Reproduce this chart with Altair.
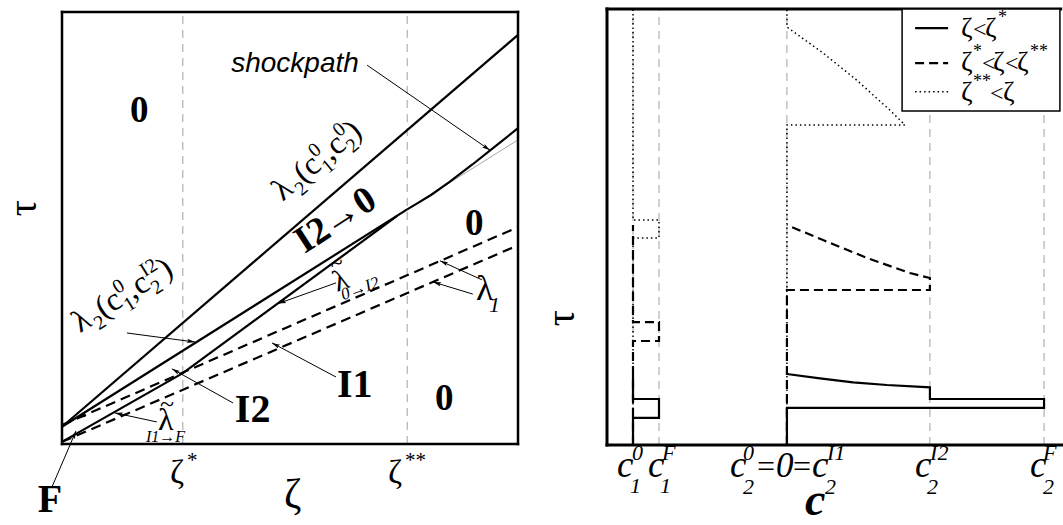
import math
import altair as alt
import pandas as pd

SERIF = "Liberation Serif"
SANS = "Liberation Sans"

# ---------------- left panel: characteristics in the (zeta, tau) plane ----------------
ZETA_STAR = 0.265
ZETA_STAR2 = 0.757

LAM2_00_ZETA = [0.0, 1.0]
LAM2_00_TAU = [0.040, 0.947]

LAM2_0I2_ZETA = [0.0, ZETA_STAR2]
LAM2_0I2_TAU = [0.040, 0.543]
LAM2_0I2_EXT_ZETA = [ZETA_STAR2, 1.0]
LAM2_0I2_EXT_TAU = [0.543, 0.704]

SHOCK_ZETA = [0.757, 0.78, 0.81, 0.85, 0.90, 0.95, 1.0]
SHOCK_TAU = [0.543, 0.5575, 0.577, 0.607, 0.647, 0.689, 0.731]

LAMT_ZETA = [0.0, ZETA_STAR, 0.735]
LAMT_TAU = [0.005, 0.164, 0.528]

LAM1_UP_ZETA = [0.0, 1.0]
LAM1_UP_TAU = [0.044, 0.502]
LAM1_LO_ZETA = [0.0, 1.0]
LAM1_LO_TAU = [0.005, 0.460]

# ---------------- right panel: concentration profiles c(tau) ----------------
C1_0, C1_F = 0.0, 1.0
C2_0, C2_I2, C2_F = 5.92, 11.42, 15.81
C_TICKS = [C1_0, C1_F, C2_0, C2_I2, C2_F]

SOLID_C1_C = [C1_0, C1_0, C1_F, C1_F, C1_0, C1_0]
SOLID_C1_T = [0.0, 0.062, 0.062, 0.1055, 0.1055, 0.161]
SOLID_C2_C = [C2_0, C2_0, C2_F, C2_F, C2_I2, C2_I2, 9.77, 8.46, 7.19, C2_0]
SOLID_C2_T = [0.0, 0.085, 0.085, 0.1055, 0.1055, 0.1323, 0.1376, 0.1438, 0.153, 0.1628]

DASHED_C1_C = [C1_0, C1_0, C1_F, C1_F, C1_0, C1_0]
DASHED_C1_T = [0.0, 0.2385, 0.2385, 0.282, 0.282, 0.5046]
DASHED_C2_C = [C2_0, C2_0, C2_I2, C2_I2, 10.65, 9.0, 7.31, C2_0]
DASHED_C2_T = [0.0, 0.3555, 0.3555, 0.383, 0.3945, 0.429, 0.470, 0.5046]

DOTTED_C1_C = [C1_0, C1_0, C1_F, C1_F, C1_0, C1_0]
DOTTED_C1_T = [0.0, 0.475, 0.475, 0.516, 0.516, 1.0]
DOTTED_C2_C = [C2_0, C2_0, 10.46, 9.88, 8.6, 7.31, C2_0, C2_0]
DOTTED_C2_T = [0.0, 0.734, 0.734, 0.768, 0.837, 0.899, 0.9587, 1.0]

# ---------------- scales (one canvas, two coordinate systems) ----------------
SCALES = {
    "L": (alt.Scale(domain=[0, 1], range=[62, 518], nice=False, zero=False),
          alt.Scale(domain=[0, 1], range=[444, 12], nice=False, zero=False)),
    "R": (alt.Scale(domain=[-1, 16.5], range=[607, 1062], nice=False, zero=False),
          alt.Scale(domain=[0, 1], range=[445, 9], nice=False, zero=False)),
}
PPU = {"L": (456.0, 432.0), "R": (26.0, 436.0)}  # pixels per data unit


def X(panel, f="x"):
    return alt.X(f"{f}:Q", scale=SCALES[panel][0], axis=None)


def Y(panel, f="y"):
    return alt.Y(f"{f}:Q", scale=SCALES[panel][1], axis=None)


def path(panel, xs, ys, **mark):
    df = pd.DataFrame({"x": xs, "y": ys, "i": list(range(len(xs)))})
    return alt.Chart(df).mark_line(**mark).encode(
        x=X(panel), y=Y(panel), order=alt.Order("i:Q"))


def segs(panel, x1, y1, x2, y2, **mark):
    df = pd.DataFrame({"x": x1, "y": y1, "x2": x2, "y2": y2})
    return alt.Chart(df).mark_rule(**mark).encode(
        x=X(panel), y=Y(panel), x2="x2:Q", y2="y2:Q")


HEAD = "M0,0L-0.45,1.7L0,1.35L0.45,1.7Z"


def arrows(panel, items):
    sx, sy = PPU[panel]
    rows = []
    for (xa, ya), (xb, yb) in items:
        dx = (xb - xa) * sx
        dy = -(yb - ya) * sy
        ang = math.degrees(math.atan2(dx, -dy)) % 360
        rows.append({"x": xa, "y": ya, "x2": xb, "y2": yb, "ang": ang})
    df = pd.DataFrame(rows)
    shaft = alt.Chart(df).mark_rule(color="black", strokeWidth=1).encode(
        x=X(panel), y=Y(panel), x2="x2:Q", y2="y2:Q")
    head = alt.Chart(df).mark_point(shape=HEAD, filled=True, color="black",
                                    opacity=1, size=90, strokeWidth=0).encode(
        x=X(panel, "x2"), y=Y(panel, "y2"), angle=alt.Angle("ang:Q", scale=None))
    return [shaft, head]


# ---------------- rich text (sub/superscripts) ----------------
EM = {"λ": 0.55, "c": 0.444, "(": 0.333, ")": 0.333, ",": 0.25, "I": 0.333,
      "F": 0.611, "→": 1.0, "=": 0.564, "<": 0.564, "ζ": 0.45, "*": 0.5, "~": 0.54}
ROWS = []


def P(t, s, rise=0.0, du=None, adv=True, it=False, b=False, fam=SERIF):
    return dict(t=t, s=s, rise=rise, du=du, adv=adv, it=it, b=b, fam=fam)


def width(p):
    return sum(EM.get(ch, 0.5) for ch in p["t"]) * p["s"]


def place(panel, x0, y0, pieces, angle=0.0, center=False, lift=0.0):
    sx, sy = PPU[panel]
    th = math.radians(angle)
    cur, starts = 0.0, []
    for p in pieces:
        u = cur if p["du"] is None else p["du"]
        starts.append(u)
        if p["adv"]:
            cur = u + width(p)
    shift = -cur / 2 if center else 0.0
    for p, u in zip(pieces, starts):
        u += shift
        v = lift - p["rise"]
        dx = u * math.cos(th) - v * math.sin(th)
        dy = u * math.sin(th) + v * math.cos(th)
        ROWS.append(dict(panel=panel, x=x0 + dx / sx, y=y0 - dy / sy, label=p["t"],
                         fs=p["s"], it=p["it"], b=p["b"], fam=p["fam"], angle=angle,
                         align="left", baseline="alphabetic"))


def plain(panel, x0, y0, t, s, angle=0.0, it=False, b=False, fam=SERIF):
    ROWS.append(dict(panel=panel, x=x0, y=y0, label=t, fs=s, it=it, b=b, fam=fam,
                     angle=angle, align="center", baseline="middle"))


def text_layers():
    groups = {}
    for r in ROWS:
        key = (r["panel"], r["fam"], r["it"], r["b"], r["angle"], r["align"], r["baseline"])
        groups.setdefault(key, []).append(r)
    out = []
    for (panel, fam, it, b, ang, align, base), rs in groups.items():
        df = pd.DataFrame({"x": [r["x"] for r in rs], "y": [r["y"] for r in rs],
                           "label": [r["label"] for r in rs], "fs": [r["fs"] for r in rs]})
        out.append(alt.Chart(df).mark_text(
            font=fam, fontStyle="italic" if it else "normal",
            fontWeight="bold" if b else "normal", angle=ang, align=align,
            baseline=base, color="black").encode(
            x=X(panel), y=Y(panel), text="label:N", size=alt.Size("fs:Q", scale=None)))
    return out


def lam2_label(sup2):
    return [P("λ", 32), P("2", 20, rise=-8), P("(", 32), P("c", 32),
            P("1", 20, rise=-8, adv=False), P("0", 20, rise=13), P(",", 32), P("c", 32),
            P("2", 20, rise=-8, adv=False), P(sup2, 20, rise=13), P(")", 32)]


layers = []

# ---- left panel ----
layers.append(segs("L", [ZETA_STAR, ZETA_STAR2], [0, 0], [ZETA_STAR, ZETA_STAR2], [1, 1],
                   color="#a0a0a0", strokeWidth=1, strokeDash=[8, 6]))
layers.append(path("L", LAM2_0I2_EXT_ZETA, LAM2_0I2_EXT_TAU, color="#a8a8a8", strokeWidth=1))
layers.append(path("L", LAM1_UP_ZETA, LAM1_UP_TAU, color="black", strokeWidth=2.2, strokeDash=[10, 6]))
layers.append(path("L", LAM1_LO_ZETA, LAM1_LO_TAU, color="black", strokeWidth=2.2, strokeDash=[10, 6]))
layers.append(path("L", LAM2_00_ZETA, LAM2_00_TAU, color="black", strokeWidth=2.2))
layers.append(path("L", LAM2_0I2_ZETA, LAM2_0I2_TAU, color="black", strokeWidth=2.2))
layers.append(path("L", LAMT_ZETA, LAMT_TAU, color="black", strokeWidth=2.2))
layers.append(path("L", SHOCK_ZETA, SHOCK_TAU, color="black", strokeWidth=2.2))
layers.append(segs("L", [0, 0, 0, 1], [0, 1, 0, 0], [1, 1, 0, 1], [0, 1, 1, 1],
                   color="black", strokeWidth=2.5, strokeCap="square"))
layers += arrows("L", [
    ((0.669, 0.877), (0.9386, 0.680)),   # shockpath
    ((0.1425, 0.257), (0.2917, 0.236)),  # lambda2(c1^0, c2^I2)
    ((0.601, 0.373), (0.474, 0.325)),    # lambda~ 0->I2
    ((0.921, 0.380), (0.829, 0.424)),    # lambda1, upper
    ((0.901, 0.347), (0.814, 0.375)),    # lambda1, lower
    ((0.601, 0.155), (0.4605, 0.234)),   # I1
    ((0.375, 0.095), (0.241, 0.174)),    # I2
    ((0.208, 0.051), (0.116, 0.072)),    # lambda~ I1->F
    ((-0.022, -0.0995), (0.0307, 0.030)),  # F
    ((0.045, 0.0646), (0.035, 0.060)),   # direction mark
])

place("L", 0.371, 0.861, [P("shockpath", 28, it=True, fam=SANS)])
for z, t in [(0.149, 0.745), (0.884, 0.484), (0.818, 0.079)]:
    place("L", z, t, [P("0", 37, b=True)])
place("L", 0.599, 0.519, [P("I2", 38, b=True), P("→", 38), P("0", 38, b=True)],
      angle=327, center=True, lift=12)
place("L", 0.560, 0.655, lam2_label("0"), angle=320, center=True, lift=9)
place("L", 0.133, 0.343, lam2_label("I2"), angle=328, center=True, lift=9)
place("L", 0.603, 0.352,
      [P("~", 24, du=3, rise=19, adv=False), P("λ", 30, du=0),
       P("0→I2", 17, du=3, rise=-10, it=True)], angle=340)
place("L", 0.908, 0.333, [P("λ", 36), P("1", 22, du=13, rise=-12, it=True)])
place("L", 0.603, 0.109, [P("I1", 40, b=True)])
place("L", 0.379, 0.051, [P("I2", 40, b=True)])
place("L", 0.2105, 0.032,
      [P("~", 26, du=2, rise=18, adv=False), P("λ", 32, du=0),
       P("I1→F", 16, du=-12, rise=-12, it=True)])
place("L", -0.053, -0.157, [P("F", 40, b=True)])
place("L", 0.237, -0.090, [P("ζ", 34), P("*", 21, du=17, rise=16)])
place("L", 0.715, -0.090, [P("ζ", 34), P("**", 21, du=17, rise=16)])
place("L", 0.487, -0.148, [P("ζ", 42)])
plain("L", -0.083, 0.546, "τ", 40, angle=270)

# ---- right panel ----
layers.append(segs("R", C_TICKS, [0] * 5, C_TICKS, [1] * 5,
                   color="#a0a0a0", strokeWidth=1, strokeDash=[8, 6]))
layers.append(path("R", DOTTED_C1_C, DOTTED_C1_T, color="black", strokeWidth=1.5, strokeDash=[1.5, 3]))
layers.append(path("R", DOTTED_C2_C, DOTTED_C2_T, color="black", strokeWidth=1.5, strokeDash=[1.5, 3]))
layers.append(path("R", DASHED_C1_C, DASHED_C1_T, color="black", strokeWidth=2.2, strokeDash=[9, 5]))
layers.append(path("R", DASHED_C2_C, DASHED_C2_T, color="black", strokeWidth=2.2, strokeDash=[9, 5]))
layers.append(path("R", SOLID_C1_C, SOLID_C1_T, color="black", strokeWidth=2.2))
layers.append(path("R", SOLID_C2_C, SOLID_C2_T, color="black", strokeWidth=2.2))
layers.append(segs("R", [-1, -1, -1], [0, 0, 1], [-1, 16.7, 16.45], [1, 0, 1],
                   color="black", strokeWidth=3, strokeCap="square"))

# legend
legend_box = pd.DataFrame({"x": [10.35], "y": [0.766], "x2": [16.42], "y2": [1.0]})
layers.append(alt.Chart(legend_box).mark_rect(fill="white", stroke="black", strokeWidth=1.5).encode(
    x=X("R"), y=Y("R"), x2="x2:Q", y2="y2:Q"))
LEG_Y = [0.956, 0.876, 0.810]
layers.append(segs("R", [10.85], [LEG_Y[0]], [12.12], [LEG_Y[0]], color="black", strokeWidth=2.2))
layers.append(segs("R", [10.85], [LEG_Y[1]], [12.12], [LEG_Y[1]], color="black", strokeWidth=2.2,
                   strokeDash=[9, 5]))
layers.append(segs("R", [10.85], [LEG_Y[2]], [12.12], [LEG_Y[2]], color="black", strokeWidth=1.5,
                   strokeDash=[1.5, 3]))
place("R", 12.615, 0.936, [P("ζ", 28), P("<", 24, du=12), P("ζ", 28, du=24), P("*", 18, du=37, rise=14)])
place("R", 12.615, 0.858, [P("ζ", 28), P("*", 18, du=12, rise=14), P("<", 24, du=21), P("ζ", 28, du=32),
                           P("<", 24, du=44), P("ζ", 28, du=56), P("**", 18, du=69, rise=14)])
place("R", 12.615, 0.789, [P("ζ", 28), P("**", 18, du=12, rise=14), P("<", 24, du=29), P("ζ", 28, du=42)])

# c-axis labels
place("R", -0.615, -0.0734, [P("c", 37, it=True), P("0", 22, du=15, rise=17, it=True),
                             P("1", 22, du=13, rise=-16, it=True)])
place("R", 0.577, -0.0734, [P("c", 37, it=True), P("F", 22, du=14, rise=17, it=True),
                            P("1", 22, du=12, rise=-16, it=True)])
place("R", 3.73, -0.0734, [P("c", 37, it=True), P("0", 22, du=13, rise=17, it=True),
                           P("2", 22, du=13, rise=-17, it=True), P("=", 32, du=27),
                           P("0", 35, du=46, it=True), P("=", 32, du=63),
                           P("c", 37, du=82, it=True), P("I1", 22, du=97, rise=17, it=True),
                           P("2", 22, du=95, rise=-17, it=True)])
place("R", 10.85, -0.0734, [P("c", 37, it=True), P("I2", 22, du=15, rise=17, it=True),
                            P("2", 22, du=12, rise=-17, it=True)])
place("R", 15.27, -0.0734, [P("c", 37, it=True), P("F", 22, du=13, rise=17, it=True),
                            P("2", 22, du=13, rise=-17, it=True)])
place("R", 6.62, -0.160, [P("c", 46, it=True, b=True)])
plain("R", -2.73, 0.291, "τ", 40, angle=270)

layers += text_layers()

chart = alt.layer(*layers).resolve_scale(x="independent", y="independent").properties(
    width=1063, height=525, autosize="none", padding=0, background="white"
).configure_view(stroke=None)

chart.save("out.html", embed_options={"renderer": "svg", "actions": False})
